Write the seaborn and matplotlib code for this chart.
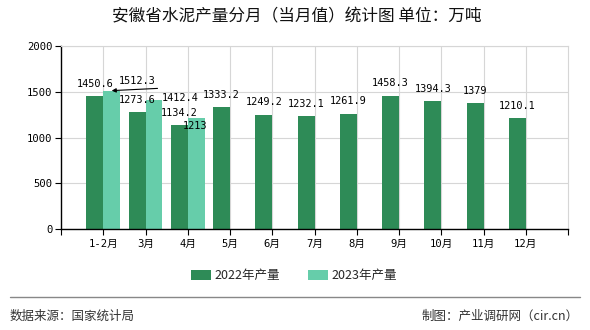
import numpy as np
import pandas as pd
import matplotlib
matplotlib.use('Agg')
import matplotlib.pyplot as plt
import seaborn as sns
from matplotlib.patches import Patch
from matplotlib.lines import Line2D

categories = ['1-2月', '3月', '4月', '5月', '6月', '7月', '8月', '9月', '10月', '11月', '12月']
prod_2022 = [1450.6, 1273.6, 1134.2, 1333.2, 1249.2, 1232.1, 1261.9, 1458.3, 1394.3, 1379, 1210.1]
prod_2023 = [1512.3, 1412.4, 1213]
series = ['2022年产量', '2023年产量']
yticks = [0, 500, 1000, 1500, 2000]
colors = ['#2E8B57', '#66CDAA']

sns.set_theme(style='white')
plt.rcParams['font.family'] = ['Noto Sans CJK SC', 'DejaVu Sans']

n = len(categories)
vals2023 = prod_2023 + [np.nan] * (n - len(prod_2023))
df = pd.DataFrame({
    'month': categories * 2,
    'series': [series[0]] * n + [series[1]] * n,
    'value': prod_2022 + vals2023,
})

fig = plt.figure(figsize=(5.9, 3.3), dpi=100)
ax = fig.add_axes([61 / 590, 1 - 229 / 330, 507 / 590, 183 / 330])

sns.barplot(data=df, x='month', y='value', hue='series', order=categories,
            hue_order=series, palette=dict(zip(series, colors)), saturation=1,
            width=0.8, dodge=True, legend=False, ax=ax, errorbar=None,
            linewidth=0, edgecolor='none')

ax.set_xlim(-1, n)
ax.set_ylim(0, 2000)
ax.set_yticks(yticks)
ax.set_xticks(range(n))
mono = ['DejaVu Sans Mono', 'Noto Sans CJK SC']
ax.set_xticklabels(categories, fontfamily=mono, fontsize=7.6)
ax.set_yticklabels([str(t) for t in yticks], fontfamily=mono, fontsize=7.6)
ax.set_xticks([-1, n], minor=True)
ax.tick_params(axis='x', which='both', direction='out', length=4, width=0.8,
               color='black', bottom=True, labelcolor='black', pad=3)
ax.tick_params(axis='y', direction='out', length=4, width=0.8, color='black',
               left=True, labelcolor='black', pad=2)
ax.set_xlabel('')
ax.set_ylabel('')

ax.set_axisbelow(True)
ax.grid(True, which='major', axis='both', color='#d6d6d6', lw=0.8)
for s in ['left', 'bottom']:
    ax.spines[s].set_color('black')
    ax.spines[s].set_linewidth(1.0)
for s in ['top', 'right']:
    ax.spines[s].set_color('#d6d6d6')
    ax.spines[s].set_linewidth(0.8)
ax.set_facecolor('white')

# data labels
half = 0.8 / 4
lbl_kw = dict(textcoords='offset points', ha='center', va='center', fontsize=7.4,
              fontfamily='DejaVu Sans Mono', color='black')
for i, v in enumerate(prod_2022):
    ax.annotate(f'{v:g}', xy=(i - half, v), xytext=(0, 8.8), **lbl_kw)

offs2023 = [(18.4, 7.0), (19.1, 1.6), (-1.1, -5.6)]
for i, v in enumerate(prod_2023):
    dx, dy = offs2023[i]
    ax.annotate(f'{v:g}', xy=(i + half, v), xytext=(dx, dy), **lbl_kw)
# leader line for first 2023 label
ax.annotate('', xy=(0 + half, prod_2023[0]), xytext=(33, 1.6), textcoords='offset points',
            arrowprops=dict(arrowstyle='-|>', color='black', lw=0.8, shrinkA=0, shrinkB=0,
                            mutation_scale=6))

# title
fig.text(0.503, 1 - 17 / 330, '安徽省水泥产量分月（当月值）统计图 单位：万吨',
         ha='center', va='center', fontsize=12, color='#111111')

# legend
handles = [Patch(facecolor=c, edgecolor='none') for c in colors]
fig.legend(handles, series, loc='center', bbox_to_anchor=(0.498, 1 - 276 / 330),
           ncol=2, frameon=False, fontsize=9, handlelength=1.6, handleheight=0.8,
           handletextpad=0.3, columnspacing=2.2)

# separator and footer
fig.add_artist(Line2D([10 / 590, 580 / 590], [1 - 297 / 330] * 2, color='#888888', lw=1.0))
fig.text(10 / 590, 1 - 316 / 330, '数据来源：国家统计局', ha='left', va='center',
         fontsize=9, color='#333333')
fig.text(579 / 590, 1 - 316 / 330, '制图：产业调研网（cir.cn）', ha='right', va='center',
         fontsize=9, color='#333333')

fig.savefig('out.png', dpi=100, facecolor='white')
